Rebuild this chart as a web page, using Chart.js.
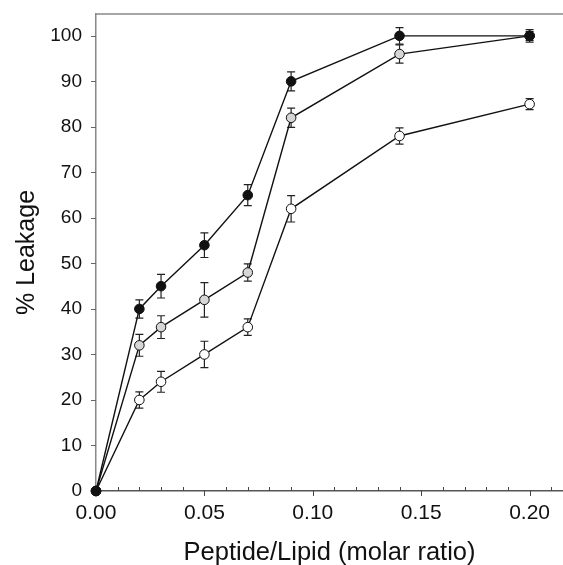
<!DOCTYPE html>
<html>
<head>
<meta charset="utf-8">
<script src="https://cdn.jsdelivr.net/npm/chart.js@4/dist/chart.umd.min.js"></script>
<style>
  html, body { margin: 0; padding: 0; background: #fff; }
  canvas { display: block; }
</style>
</head>
<body>
<canvas id="grafico" width="563" height="565"></canvas>
<script>
// ratio peptide/lipid
const xValues = [0, 0.02, 0.03, 0.05, 0.07, 0.09, 0.14, 0.20];

// % leakage, three series (black, grey, white markers)
const blackY = [0, 40, 45, 54, 65, 90, 100, 100];
const blackErr = [0, 2.0, 2.6, 2.7, 2.3, 2.1, 1.8, 1.4];
const greyY = [0, 32, 36, 42, 48, 82, 96, 100];
const greyErr = [0, 2.4, 2.5, 3.8, 1.9, 2.1, 2.0, 1.0];
const whiteY = [0, 20, 24, 30, 36, 62, 78, 85];
const whiteErr = [0, 1.8, 2.3, 2.9, 1.8, 2.9, 1.8, 1.2];

const yTicks = [0, 10, 20, 30, 40, 50, 60, 70, 80, 90, 100];
const xMajorTicks = [0, 0.05, 0.10, 0.15, 0.20];
const xMinorTicks = [0.01, 0.02, 0.03, 0.04, 0.06, 0.07, 0.08, 0.09, 0.11, 0.12, 0.13, 0.14, 0.16, 0.17, 0.18, 0.19, 0.21];

const errorSets = [blackErr, greyErr, whiteErr];

function toPoints(ys) {
    return xValues.map((x, i) => ({ x: x, y: ys[i] }));
}

// barras de erro + moldura + ticks
const extrasPlugin = {
    id: 'extras',
    beforeDatasetsDraw(chart) {
        const { ctx, chartArea, scales: { x, y } } = chart;
        ctx.save();

        // top frame line
        ctx.strokeStyle = '#888';
        ctx.lineWidth = 1.5;
        ctx.beginPath();
        ctx.moveTo(chartArea.left, chartArea.top);
        ctx.lineTo(chart.width, chartArea.top);
        ctx.stroke();

        // y ticks (outward)
        ctx.strokeStyle = '#666';
        ctx.lineWidth = 1;
        yTicks.forEach(v => {
            const py = Math.round(y.getPixelForValue(v)) + 0.5;
            ctx.beginPath();
            ctx.moveTo(chartArea.left - 5, py);
            ctx.lineTo(chartArea.left, py);
            ctx.stroke();
        });

        // x ticks: major outward, minor inward
        ctx.strokeStyle = '#444';
        xMajorTicks.forEach(v => {
            const px = Math.round(x.getPixelForValue(v)) + 0.5;
            ctx.beginPath();
            ctx.moveTo(px, chartArea.bottom);
            ctx.lineTo(px, chartArea.bottom + 5);
            ctx.stroke();
        });
        xMinorTicks.forEach(v => {
            const px = Math.round(x.getPixelForValue(v)) + 0.5;
            ctx.beginPath();
            ctx.moveTo(px, chartArea.bottom);
            ctx.lineTo(px, chartArea.bottom - 4);
            ctx.stroke();
        });

        // error bars
        ctx.strokeStyle = '#222';
        ctx.lineWidth = 1.2;
        chart.data.datasets.forEach((ds, i) => {
            const errs = errorSets[i];
            ds.data.forEach((p, j) => {
                const e = errs[j];
                if (!e) return;
                const px = x.getPixelForValue(p.x);
                const top = y.getPixelForValue(p.y + e);
                const bot = y.getPixelForValue(p.y - e);
                ctx.beginPath();
                ctx.moveTo(px, top);
                ctx.lineTo(px, bot);
                ctx.moveTo(px - 4, top);
                ctx.lineTo(px + 4, top);
                ctx.moveTo(px - 4, bot);
                ctx.lineTo(px + 4, bot);
                ctx.stroke();
            });
        });

        ctx.restore();
    }
};

function serie(label, ys, fill) {
    return {
        label: label,
        data: toPoints(ys),
        borderColor: '#111',
        borderWidth: 1.4,
        pointBackgroundColor: fill,
        pointBorderColor: '#111',
        pointBorderWidth: 1,
        pointRadius: 4.8,
        tension: 0,
        clip: false
    };
}

// zera o padding automático das escalas
function noPad(s) {
    s.paddingTop = 0;
    s.paddingBottom = 0;
    s.paddingLeft = 0;
    s.paddingRight = 0;
}

const ctx = document.getElementById('grafico');
new Chart(ctx, {
    type: 'line',
    data: {
        datasets: [
            serie('black', blackY, '#111111'),
            serie('grey', greyY, '#d6d6d6'),
            serie('white', whiteY, '#ffffff')
        ]
    },
    options: {
        responsive: false,
        animation: false,
        devicePixelRatio: 1,
        layout: { autoPadding: false, padding: { top: 14, right: 0, left: 0, bottom: 0 } },
        plugins: {
            legend: { display: false },
            tooltip: { enabled: false }
        },
        scales: {
            x: {
                type: 'linear',
                min: 0,
                max: 0.2154,
                afterFit: s => { s.height = 74; noPad(s); },
                grid: { display: false, drawTicks: false },
                border: { display: true, color: '#555', width: 1.5 },
                ticks: {
                    stepSize: 0.05,
                    includeBounds: false,
                    autoSkip: false,
                    maxRotation: 0,
                    padding: 10,
                    color: '#111',
                    font: { family: 'Liberation Sans', size: 21 },
                    callback: v => Number(v).toFixed(2)
                },
                title: {
                    display: true,
                    text: 'Peptide/Lipid (molar ratio)',
                    color: '#111',
                    font: { family: 'Liberation Sans', size: 25.5 },
                    padding: { top: 0, bottom: -3 }
                }
            },
            y: {
                type: 'linear',
                min: 0,
                max: 104.8,
                afterFit: s => { s.width = 96; noPad(s); },
                grid: { display: false, drawTicks: false },
                border: { display: true, color: '#888', width: 1.5 },
                ticks: {
                    stepSize: 10,
                    includeBounds: false,
                    padding: 14,
                    color: '#111',
                    font: { family: 'Liberation Sans', size: 19 }
                },
                title: {
                    display: true,
                    text: '% Leakage',
                    color: '#111',
                    font: { family: 'Liberation Sans', size: 25 },
                    padding: { top: 12, bottom: 0 }
                }
            }
        }
    },
    plugins: [extrasPlugin]
});
</script>
</body>
</html>
